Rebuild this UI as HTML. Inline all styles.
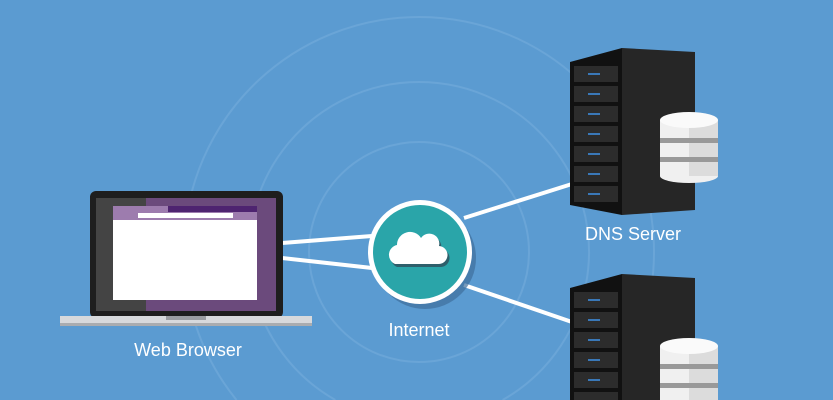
<!DOCTYPE html>
<html><head><style>
html,body{margin:0;padding:0;width:833px;height:400px;overflow:hidden;background:#5b9bd1;font-family:"Liberation Sans",sans-serif;}
svg{display:block}
</style></head><body>
<svg width="833" height="400" viewBox="0 0 833 400" xmlns="http://www.w3.org/2000/svg">
<rect width="833" height="400" fill="#5b9bd1"/>
<g fill="none" stroke="#79afdd" stroke-width="2" opacity="0.5">
<circle cx="419" cy="252" r="110"/>
<path d="M335.4 400 A170 170 0 1 1 502.6 400"/>
<path d="M236.5 400 A235 235 0 1 1 601.5 400"/>
</g>
<g stroke="#ffffff" stroke-width="4" fill="none">
<line x1="282" y1="243" x2="372" y2="236"/>
<line x1="282" y1="258" x2="372" y2="268"/>
<line x1="464" y1="218" x2="572" y2="184"/>
<line x1="464" y1="285" x2="572" y2="322"/>
</g>
<rect x="90" y="191" width="193" height="127" rx="6" fill="#1e1e1e"/>
<rect x="96" y="198" width="180" height="113" fill="#6b4a7c"/>
<rect x="96" y="198" width="50" height="113" fill="#444"/>
<rect x="113" y="206" width="144" height="14" fill="#9d7cae"/>
<rect x="168" y="206" width="89" height="6" fill="#4e2470"/>
<rect x="138" y="213" width="95" height="5" fill="#fff"/>
<rect x="113" y="220" width="144" height="80" fill="#ffffff"/>
<rect x="60" y="316" width="252" height="10" fill="#d7d9dc"/>
<rect x="60" y="323" width="252" height="3" fill="#a9acb0"/>
<rect x="166" y="316" width="40" height="4" fill="#9a9da1"/>
<text x="188" y="356" font-size="18" fill="#fff" text-anchor="middle">Web Browser</text>
<circle cx="425" cy="258" r="51" fill="#3f6f9c" opacity="0.7"/>
<circle cx="420" cy="252" r="52" fill="#ffffff"/>
<circle cx="420" cy="252" r="47" fill="#2aa5a9"/>
<path d="M395 264 a10 10 0 0 1 2 -19 a13 13 0 0 1 24 -7 a10 10 0 0 1 18 8 a9 9 0 0 1 -1 18 z" fill="#2e5f6b" transform="translate(2,3)"/>
<path d="M395 264 a10 10 0 0 1 2 -19 a13 13 0 0 1 24 -7 a10 10 0 0 1 18 8 a9 9 0 0 1 -1 18 z" fill="#fff"/>
<text x="419" y="336" font-size="18" fill="#fff" text-anchor="middle">Internet</text>
<polygon points="622,48 695,52 695,210 622,215" fill="#262626"/>
<polygon points="570,62 622,48 622,215 570,205" fill="#111"/>
<g fill="#2c2c2c">
<rect x="574" y="66" width="44" height="16"/><rect x="574" y="86" width="44" height="16"/>
<rect x="574" y="106" width="44" height="16"/><rect x="574" y="126" width="44" height="16"/>
<rect x="574" y="146" width="44" height="16"/><rect x="574" y="166" width="44" height="16"/>
<rect x="574" y="186" width="44" height="16"/>
</g>
<g fill="#3a78b8">
<rect x="588" y="73" width="12" height="2"/><rect x="588" y="93" width="12" height="2"/>
<rect x="588" y="113" width="12" height="2"/><rect x="588" y="133" width="12" height="2"/>
<rect x="588" y="153" width="12" height="2"/><rect x="588" y="173" width="12" height="2"/>
<rect x="588" y="193" width="12" height="2"/>
</g>
<rect x="660" y="120" width="58" height="56" fill="#f0f0f0"/>
<ellipse cx="689" cy="176" rx="29" ry="7" fill="#f0f0f0"/>
<rect x="689" y="120" width="29" height="56" fill="#dcdcdc"/>
<rect x="660" y="138" width="58" height="5" fill="#999"/>
<rect x="660" y="157" width="58" height="5" fill="#999"/>
<ellipse cx="689" cy="120" rx="29" ry="8" fill="#fafafa"/>
<polygon points="622,274 695,278 695,400 622,400" fill="#262626"/>
<polygon points="570,288 622,274 622,400 570,400" fill="#111"/>
<g fill="#2c2c2c">
<rect x="574" y="292" width="44" height="16"/><rect x="574" y="312" width="44" height="16"/>
<rect x="574" y="332" width="44" height="16"/><rect x="574" y="352" width="44" height="16"/>
<rect x="574" y="372" width="44" height="16"/><rect x="574" y="392" width="44" height="8"/>
</g>
<g fill="#3a78b8">
<rect x="588" y="299" width="12" height="2"/><rect x="588" y="319" width="12" height="2"/>
<rect x="588" y="339" width="12" height="2"/><rect x="588" y="359" width="12" height="2"/>
<rect x="588" y="379" width="12" height="2"/>
</g>
<rect x="660" y="346" width="58" height="54" fill="#f0f0f0"/>
<rect x="689" y="346" width="29" height="54" fill="#dcdcdc"/>
<rect x="660" y="364" width="58" height="5" fill="#999"/>
<rect x="660" y="383" width="58" height="5" fill="#999"/>
<ellipse cx="689" cy="346" rx="29" ry="8" fill="#fafafa"/>
<text x="633" y="240" font-size="18" fill="#fff" text-anchor="middle">DNS Server</text>
</svg>
</body></html>
